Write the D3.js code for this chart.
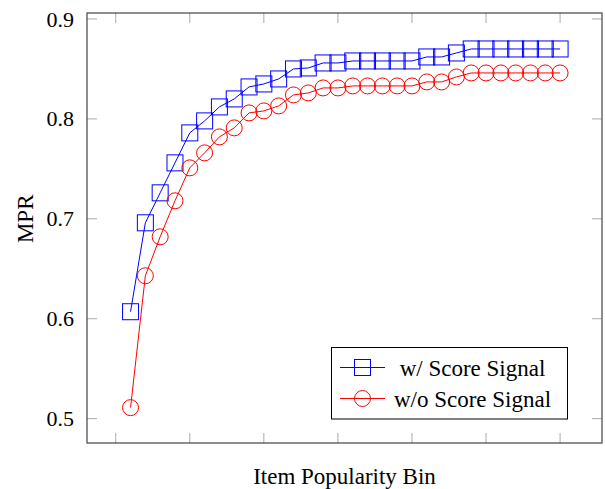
<!DOCTYPE html>
<html>
<head>
<meta charset="utf-8">
<script src="https://cdn.jsdelivr.net/npm/d3@7"></script>
<style>
  body { margin: 0; background: #fff; }
  svg text { font-family: 'Liberation Serif', 'DejaVu Serif', serif; fill: #000; }
</style>
</head>
<body>
<div id="chart"></div>
<script>
// popularity bins 1..30
const bins = d3.range(1, 31)
const withScore = [0.607, 0.696, 0.726, 0.756, 0.786, 0.798, 0.812, 0.820, 0.832, 0.835,
  0.840, 0.850, 0.851, 0.856, 0.856, 0.858, 0.858, 0.858, 0.858, 0.858,
  0.862, 0.862, 0.866, 0.870, 0.870, 0.870, 0.870, 0.870, 0.870, 0.870]
const withoutScore = [0.511, 0.643, 0.682, 0.718, 0.751, 0.766, 0.782, 0.791, 0.806, 0.808,
  0.813, 0.824, 0.826, 0.831, 0.831, 0.833, 0.833, 0.833, 0.833, 0.833,
  0.837, 0.837, 0.842, 0.846, 0.846, 0.846, 0.846, 0.846, 0.846, 0.846]
const yTicks = [0.5, 0.6, 0.7, 0.8, 0.9]
const xTicks = [0, 5, 10, 15, 20, 25, 30]
const seriesNames = ['w/ Score Signal', 'w/o Score Signal']

const width = 605
const height = 489
const margin = { left: 87, right: 3, top: 13, bottom: 46 }

const svg = d3.select('#chart').append('svg')
  .attr('width', width)
  .attr('height', height)

const x = d3.scaleLinear().domain([-1.94, 32.83]).range([margin.left, width - margin.right])
const y = d3.scaleLinear().domain([0.4756, 0.906]).range([height - margin.bottom, margin.top])

const tickLen = 10
const tickColor = '#aaa'

// ticks (inside, mirrored)
const gTicks = svg.append('g')
yTicks.forEach(t => {
  gTicks.append('line').attr('x1', x.range()[0]).attr('x2', x.range()[0] + tickLen)
    .attr('y1', y(t)).attr('y2', y(t)).attr('stroke', tickColor)
  gTicks.append('line').attr('x1', x.range()[1]).attr('x2', x.range()[1] - tickLen)
    .attr('y1', y(t)).attr('y2', y(t)).attr('stroke', tickColor)
})
xTicks.forEach(t => {
  gTicks.append('line').attr('y1', y.range()[0]).attr('y2', y.range()[0] - tickLen)
    .attr('x1', x(t)).attr('x2', x(t)).attr('stroke', tickColor)
  gTicks.append('line').attr('y1', y.range()[1]).attr('y2', y.range()[1] + tickLen)
    .attr('x1', x(t)).attr('x2', x(t)).attr('stroke', tickColor)
})

// y tick labels via axis
const yAxis = svg.append('g')
  .attr('transform', `translate(${margin.left},0)`)
  .call(d3.axisLeft(y).tickValues(yTicks).tickFormat(d3.format('.1f')).tickSize(0).tickPadding(13))
yAxis.select('.domain').remove()
yAxis.selectAll('text').style('font-size', '22px').style('font-family', "'Liberation Serif', serif").attr('fill', '#000')

// frame
svg.append('rect')
  .attr('x', x.range()[0]).attr('y', y.range()[1])
  .attr('width', x.range()[1] - x.range()[0])
  .attr('height', y.range()[0] - y.range()[1])
  .attr('fill', 'none').attr('stroke', '#444').attr('stroke-width', 1.2)

const line = d3.line().x((d, i) => x(bins[i])).y(d => y(d))

const blue = '#0000ff'
const red = '#ff0000'
const sq = 16
const rad = 8

svg.append('path').datum(withScore).attr('d', line)
  .attr('fill', 'none').attr('stroke', blue).attr('stroke-width', 1)
svg.append('path').datum(withoutScore).attr('d', line)
  .attr('fill', 'none').attr('stroke', red).attr('stroke-width', 1)

svg.append('g').selectAll('rect').data(withScore).enter().append('rect')
  .attr('x', (d, i) => x(bins[i]) - sq / 2)
  .attr('y', d => y(d) - sq / 2)
  .attr('width', sq).attr('height', sq)
  .attr('fill', 'none').attr('stroke', blue).attr('stroke-width', 1)

svg.append('g').selectAll('circle').data(withoutScore).enter().append('circle')
  .attr('cx', (d, i) => x(bins[i]))
  .attr('cy', d => y(d))
  .attr('r', rad)
  .attr('fill', 'none').attr('stroke', red).attr('stroke-width', 1)

// axis labels
svg.append('text')
  .attr('x', (x.range()[0] + x.range()[1]) / 2)
  .attr('y', 484)
  .attr('text-anchor', 'middle')
  .style('font-size', '23px')
  .text('Item Popularity Bin')

svg.append('text')
  .attr('transform', `translate(33,${y(0.7)}) rotate(-90)`)
  .attr('text-anchor', 'middle')
  .style('font-size', '23px')
  .text('MPR')

// legend
const lg = svg.append('g')
lg.append('rect')
  .attr('x', 331.5).attr('y', 347.5).attr('width', 236).attr('height', 71.5)
  .attr('fill', '#fff').attr('stroke', '#000').attr('stroke-width', 1)

const rows = [
  { name: seriesNames[0], color: blue, shape: 'square', cy: 367.5 },
  { name: seriesNames[1], color: red, shape: 'circle', cy: 398.5 }
]
rows.forEach(r => {
  lg.append('line').attr('x1', 340).attr('x2', 385).attr('y1', r.cy).attr('y2', r.cy)
    .attr('stroke', r.color).attr('stroke-width', 1)
  if (r.shape === 'square') {
    lg.append('rect').attr('x', 362.5 - sq / 2).attr('y', r.cy - sq / 2).attr('width', sq).attr('height', sq)
      .attr('fill', 'none').attr('stroke', r.color)
  } else {
    lg.append('circle').attr('cx', 362.5).attr('cy', r.cy).attr('r', rad)
      .attr('fill', 'none').attr('stroke', r.color)
  }
  lg.append('text').attr('x', 472.5).attr('y', r.cy).attr('dy', '0.35em')
    .attr('text-anchor', 'middle').style('font-size', '23px').text(r.name)
})
</script>
</body>
</html>
